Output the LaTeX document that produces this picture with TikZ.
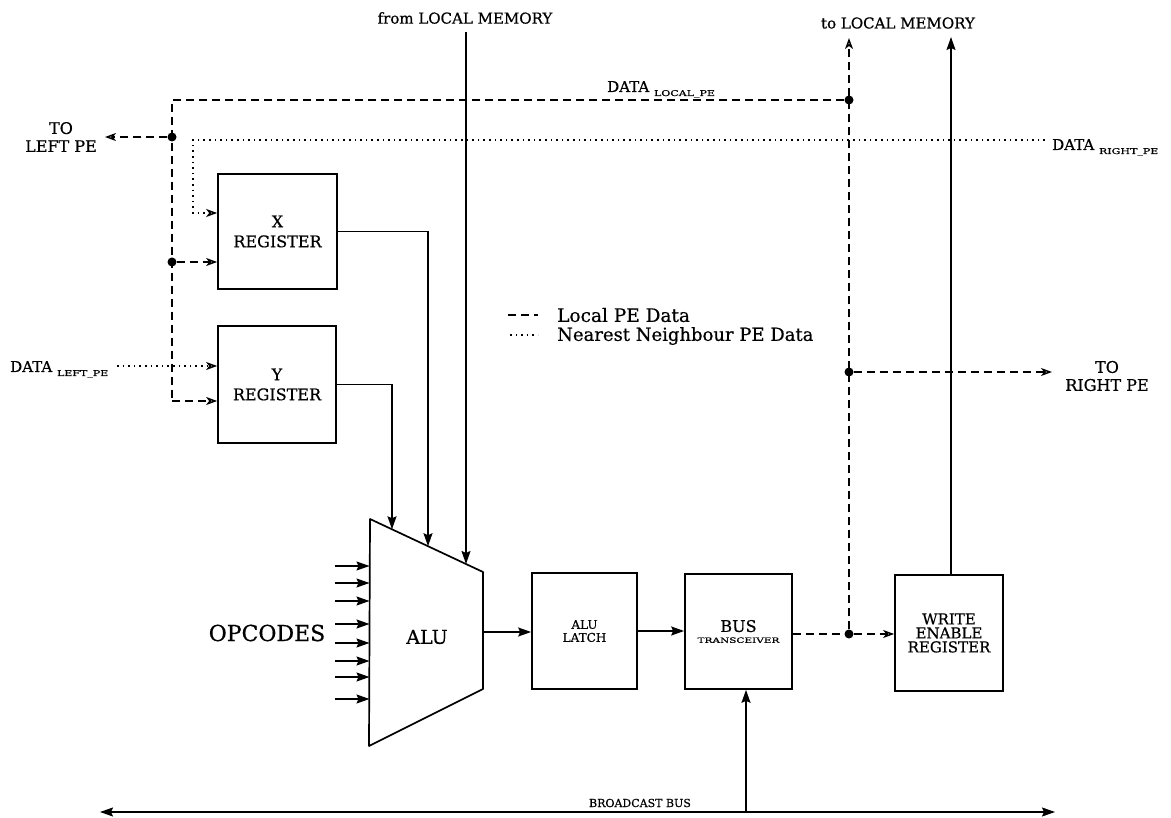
\documentclass[tikz,border=0pt]{standalone}
\usepackage{fontspec}
\setmainfont{DejaVu Serif}[FakeBold=0.6]
\usetikzlibrary{arrows.meta}
\newcommand\subtxt[1]{\raisebox{-4pt}{\scalebox{1}[0.72]{\fontsize{11}{11}\selectfont #1}}}
\begin{document}
\begin{tikzpicture}[x=1pt,y=-1pt,
  box/.style={draw, line width=1.7pt, inner sep=0pt, align=center},
  wire/.style={line width=1.5pt},
  sarrow/.style={wire, -{Stealth[length=13pt,width=9pt,inset=2pt]}},
  local/.style={wire, dash pattern=on 8pt off 5pt},
  neigh/.style={wire, dash pattern=on 1.6pt off 4pt},
  oarrow/.style={-{Stealth[open,length=11pt,width=8pt,inset=3pt]}},
  jdot/.style={circle, fill, inner sep=0pt, minimum size=9pt},
  lbl/.style={inner sep=0pt, align=center},
  f15/.style={font=\fontsize{15}{17}\selectfont},
  f16/.style={font=\fontsize{16}{18}\selectfont}
]
\path[use as bounding box] (0,0) rectangle (1171,818);

% registers
\node[box, f16, minimum width=119pt, minimum height=115pt] (xreg) at (277.5,231.5) {X\\[2pt]REGISTER};
\node[box, f16, minimum width=118pt, minimum height=117pt] (yreg) at (277,384.5) {Y\\[2pt]REGISTER};

% ALU trapezoid
\coordinate (atl) at (370,519);
\coordinate (atr) at (483,572);
\coordinate (abr) at (483,689);
\coordinate (abl) at (369,746);
\draw[line width=1.7pt, line join=round] (atl) -- (atr) -- (abr) -- (abl) -- cycle;
\node[lbl, font=\fontsize{19}{21}\selectfont] (alu) at (427,637) {ALU};
\coordinate (ainy) at (392,529.3);
\coordinate (ainx) at (428,546.2);
\coordinate (ainm) at (466,564);
\coordinate (aluout) at (483,632);

% other boxes
\node[box, font=\fontsize{12}{13}\selectfont, minimum width=105pt, minimum height=116pt] (latch) at (584.5,631) {ALU\\LATCH};
\node[box, minimum width=107pt, minimum height=115pt] (bus) at (738.5,631.5) {{\fontsize{16}{16}\selectfont BUS}\\[-1pt]\scalebox{1}[0.7]{\fontsize{10.5}{10.5}\selectfont TRANSCEIVER}};
\node[box, font=\fontsize{15}{14}\selectfont, minimum width=108pt, minimum height=116pt] (wer) at (949,633) {WRITE\\ENABLE\\REGISTER};

% OPCODES
\node[lbl, font=\fontsize{22}{24}\selectfont] (opc) at (267,633) {OPCODES};
\foreach \yy [count=\i] in {566,583,601,624,643,661,677,699} {
  \coordinate (op\i) at (335,\yy);
  \draw[sarrow] (op\i) -- (369.5,\yy);
}

% register / memory inputs to ALU
\draw[sarrow] (xreg.east) -| (ainx);
\draw[sarrow] (yreg.east) -| (ainy);
\node[lbl, f15] (frommem) at (465,18) {from LOCAL MEMORY};
\coordinate (memtop) at (466,32);
\draw[sarrow] (memtop) -- (ainm);

% datapath
\draw[sarrow] (aluout) -- (aluout -| latch.west);
\draw[sarrow] (latch.east) -- (latch.east -| bus.west);

% junctions
\node[jdot] (j1) at (849,634) {};
\node[jdot] (j2) at (849,372) {};
\node[jdot] (j3) at (849,100) {};
\node[jdot] (j4) at (172,137) {};
\node[jdot] (j5) at (172,262) {};

% local PE data (dashed)
\draw[local] (bus.east |- j1) -- (j1);
\draw[local, oarrow] (j1) -- (j1 -| wer.west);
\coordinate (tolm) at (849,38);
\draw[local, oarrow] (j1) -- (tolm);
\node[lbl, f15] (tolmtext) at (898,23) {to LOCAL MEMORY};
\coordinate (rpe) at (1052,372);
\draw[local, oarrow] (j2) -- (rpe);
\node[lbl, f16] (rpetext) at (1107,376) {TO\\RIGHT PE};
\coordinate (werout) at (951,37);
\draw[sarrow] (wer.north -| werout) -- (werout);

\coordinate (lc1) at (172,100);
\coordinate (lc2) at (172,401);
\draw[local] (j3) -- (lc1) -- (lc2);
\draw[local, oarrow] (lc2) -- (lc2 -| yreg.west);
\coordinate (lpe) at (105,137);
\draw[local, oarrow] (j4) -- (lpe);
\node[lbl, f16] (lpetext) at (61,137) {TO\\LEFT PE};
\draw[local, oarrow] (j5) -- (j5 -| xreg.west);
\node[lbl, f15, anchor=base west] (dlocal) at (607,92) {DATA \subtxt{LOCAL\_PE}};

% nearest neighbour data (dotted)
\coordinate (rd) at (1045,140);
\coordinate (rc) at (193,140);
\coordinate (rc2) at (193,213);
\draw[neigh, oarrow] (rd) -- (rc) -- (rc2) -- (rc2 -| xreg.west);
\node[lbl, f15, anchor=base west] (dright) at (1052,150) {DATA \subtxt{RIGHT\_PE}};
\coordinate (ld) at (117,366);
\draw[neigh, oarrow] (ld) -- (ld -| yreg.west);
\node[lbl, f15, anchor=base west] (dleft) at (10,372) {DATA \subtxt{LEFT\_PE}};

% legend
\coordinate (lg1a) at (508,315);
\coordinate (lg1b) at (538,315);
\draw[local] (lg1a) -- (lg1b);
\node[lbl, font=\fontsize{18.5}{20}\selectfont, anchor=west] (lgt1) at (557,315) {Local PE Data};
\coordinate (lg2a) at (510,335);
\coordinate (lg2b) at (538,335);
\draw[neigh] (lg2a) -- (lg2b);
\node[lbl, font=\fontsize{18}{20}\selectfont, anchor=west] (lgt2) at (557,336) {Nearest Neighbour PE Data};

% broadcast bus
\coordinate (bl) at (100,812);
\coordinate (br) at (1055,812);
\draw[wire, {Stealth[length=13pt,width=9pt,inset=2pt]}-{Stealth[length=13pt,width=9pt,inset=2pt]}] (bl) -- (br);
\coordinate (bt) at (746,812);
\draw[sarrow] (bt) -- (bt |- bus.south);
\node[lbl, font=\fontsize{11}{11}\selectfont] (bbus) at (640,803) {BROADCAST BUS};
\end{tikzpicture}
\end{document}
